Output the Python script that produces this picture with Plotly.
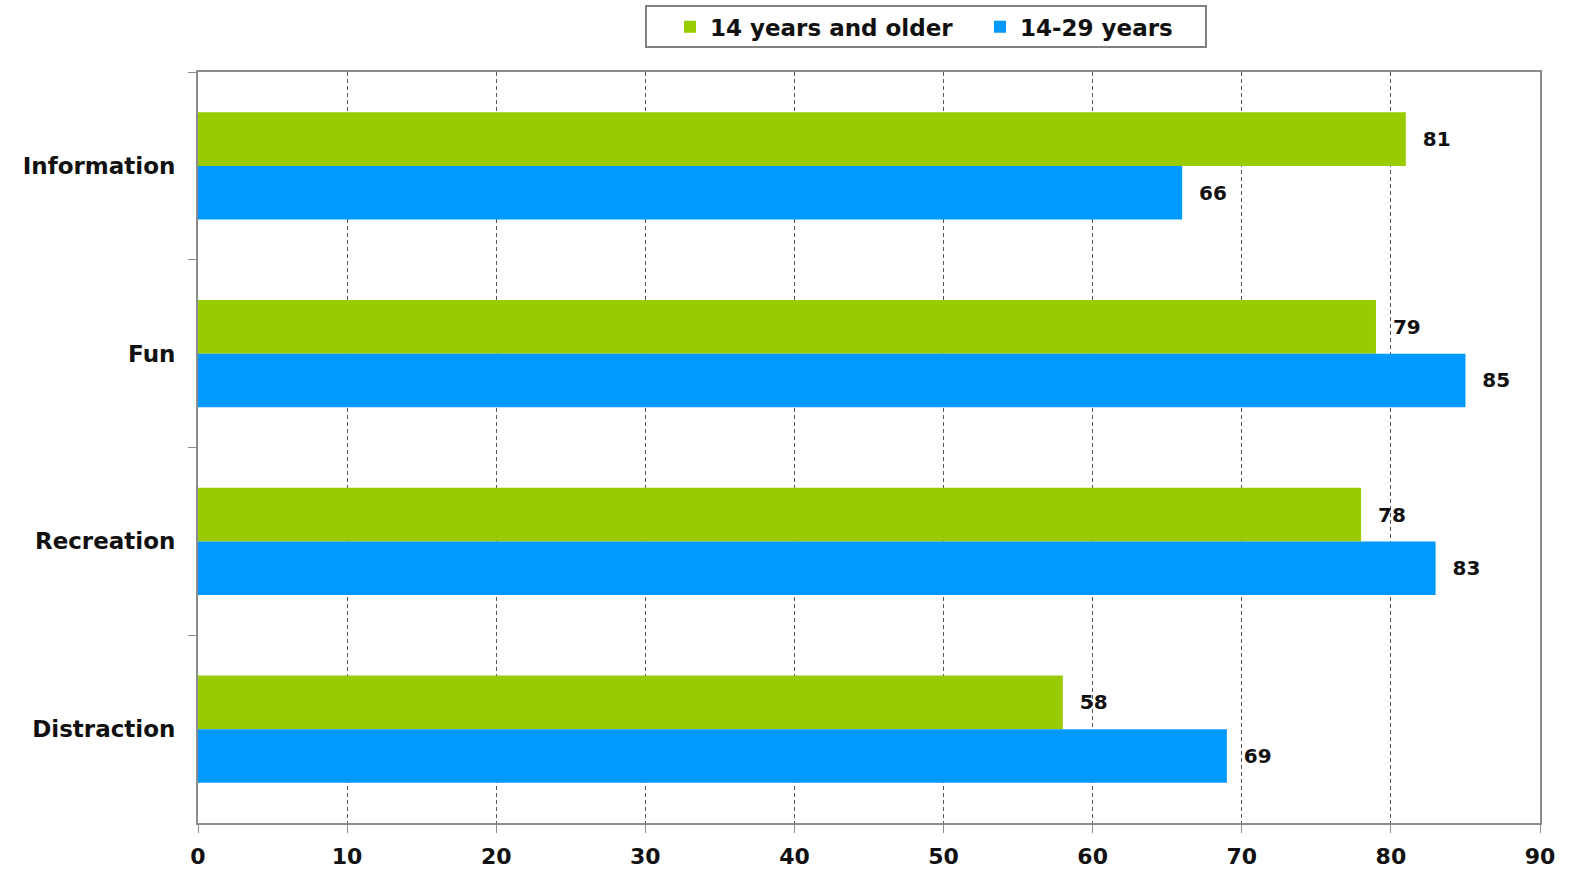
import plotly.graph_objects as go

categories = ["Information", "Fun", "Recreation", "Distraction"]
older_14 = [81, 79, 78, 58]
young_14_29 = [66, 85, 83, 69]
x_ticks = [0, 10, 20, 30, 40, 50, 60, 70, 80, 90]

FONT = "DejaVu Sans"
GREEN = "#99CC00"
BLUE = "#0099FF"
AXIS = "#8C8C8C"

fig = go.Figure()
fig.add_trace(go.Bar(
    y=categories, x=older_14, orientation="h", name="14 years and older",
    marker=dict(color=GREEN, line=dict(width=0)),
    text=older_14, texttemplate="  %{x}", textposition="outside",
    textfont=dict(family=FONT, size=20, color="#111111", weight="bold"), cliponaxis=False,
))
fig.add_trace(go.Bar(
    y=categories, x=young_14_29, orientation="h", name="14-29 years",
    marker=dict(color=BLUE, line=dict(width=0)),
    text=young_14_29, texttemplate="  %{x}", textposition="outside",
    textfont=dict(family=FONT, size=20, color="#111111", weight="bold"), cliponaxis=False,
))

fig.update_layout(
    width=1569, height=869,
    margin=dict(l=198, r=29, t=72, b=46),
    paper_bgcolor="white", plot_bgcolor="white",
    barmode="group", bargap=0.43, bargroupgap=0,
    font=dict(family=FONT, color="#111111"),
    showlegend=True,
    legend=dict(
        orientation="h", x=0.3517, xanchor="left", y=0.994, yanchor="top",
        yref="container", bgcolor="rgba(0,0,0,0)", borderwidth=0,
        font=dict(family=FONT, size=23, color="#111111", weight="bold"),
        traceorder="normal", entrywidth=265, entrywidthmode="pixels",
    ),
    # frame around the legend
    shapes=[dict(
        type="rect", xref="paper", yref="paper",
        x0=0.3338, x1=0.7511, y0=1.0333, y1=1.0879,
        line=dict(color="#808080", width=2), fillcolor="rgba(0,0,0,0)", layer="below",
    )],
)

fig.update_xaxes(
    range=[0, 90], tickvals=x_ticks, ticktext=[str(v) for v in x_ticks],
    showgrid=True, gridcolor="#555555", griddash="4px,3px", gridwidth=1,
    showline=True, linecolor=AXIS, linewidth=2, mirror=True,
    ticks="outside", ticklen=8, tickcolor=AXIS, tickwidth=1,
    tickfont=dict(family=FONT, size=22, color="#111111", weight="bold"),
    zeroline=False, ticklabelstandoff=5, automargin=False,
)
fig.update_yaxes(
    autorange="reversed", categoryorder="array", categoryarray=categories,
    showline=True, linecolor=AXIS, linewidth=2, mirror=True,
    ticks="outside", ticklen=8, tickcolor=AXIS, tickwidth=1, tickson="boundaries",
    tickfont=dict(family=FONT, size=23, color="#111111", weight="bold"),
    showgrid=False, ticklabelstandoff=16, automargin=False,
)

fig.write_html("out.html")
